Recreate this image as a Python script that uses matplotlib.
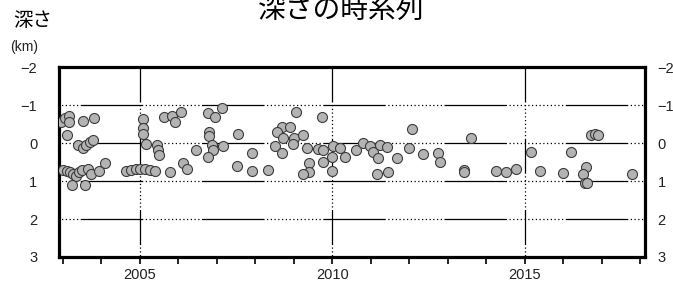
import numpy as np
import matplotlib
matplotlib.use("Agg")
import matplotlib.pyplot as plt

plt.rcParams['font.family'] = ['Liberation Sans', 'Noto Sans CJK JP', 'DejaVu Sans']

# decimal year / depth (km)
years = [
    2002.95, 2003.05, 2003.16, 2003.16, 2003.53, 2003.80, 2003.10,
    2003.40, 2003.53, 2003.60, 2003.70, 2003.77,
    2003.00, 2003.10, 2003.18, 2003.25, 2003.33, 2003.42, 2003.50, 2003.64,
    2003.73, 2003.94, 2004.10, 2003.23, 2003.57,
    2005.09, 2005.09, 2005.07, 2005.17, 2005.45, 2005.48, 2005.50, 2005.63,
    2004.65, 2004.78, 2004.90, 2005.00, 2005.13, 2005.26, 2005.39,
    2005.82, 2005.91, 2006.06, 2006.77, 2006.95, 2007.12, 2006.45, 2006.80,
    2006.80, 2006.86, 2006.89, 2006.77, 2007.16, 2007.55, 2007.90, 2005.78,
    2006.12, 2006.21, 2007.53, 2007.90, 2008.33,
    2009.05, 2009.72, 2008.68, 2008.90, 2008.55, 2008.72, 2009.00, 2009.24,
    2008.51, 2008.68, 2008.97, 2009.35, 2009.63, 2009.76, 2010.02, 2010.19,
    2010.32, 2009.98, 2009.76, 2009.40, 2009.40, 2009.23, 2009.98,
    2010.61, 2010.80, 2010.97, 2011.06, 2011.19, 2011.23, 2011.41, 2011.17,
    2011.45,
    2011.67, 2012.08, 2012.00, 2012.36, 2012.75, 2012.79, 2013.42, 2013.42,
    2013.59, 2014.26,
    2014.52, 2014.77, 2015.17, 2015.39, 2015.99, 2016.21, 2016.60, 2016.51,
    2016.56, 2016.62, 2016.73, 2016.82, 2016.90, 2017.77,
]
depths = [
    -0.57, -0.66, -0.72, -0.57, -0.59, -0.66, -0.22,
    0.05, 0.12, 0.05, -0.02, -0.09,
    0.71, 0.73, 0.77, 0.82, 0.86, 0.75, 0.71, 0.68,
    0.80, 0.73, 0.51, 1.10, 1.09,
    -0.64, -0.41, -0.24, 0.03, 0.05, 0.18, 0.31, -0.70,
    0.73, 0.71, 0.68, 0.68, 0.68, 0.71, 0.73,
    -0.71, -0.57, -0.82, -0.79, -0.68, -0.93, 0.18, -0.29,
    -0.18, 0.05, 0.18, 0.36, 0.06, -0.24, 0.27, 0.77,
    0.53, 0.68, 0.60, 0.73, 0.71,
    -0.82, -0.68, -0.44, -0.44, -0.29, -0.15, -0.13, -0.22,
    0.06, 0.27, 0.03, 0.13, 0.15, 0.18, 0.06, 0.13,
    0.36, 0.36, 0.49, 0.53, 0.75, 0.82, 0.73,
    0.18, 0.00, 0.06, 0.24, 0.40, 0.05, 0.09, 0.80,
    0.77,
    0.40, -0.38, 0.12, 0.29, 0.27, 0.49, 0.71, 0.76,
    -0.15, 0.73,
    0.75, 0.68, 0.24, 0.73, 0.78, 0.24, 0.62, 0.80,
    1.06, 1.06, -0.22, -0.24, -0.22, 0.80,
]

year_ticks = list(range(2003, 2019))
year_labels = ['2005', '2010', '2015']
depth_ticks = [-2, -1, 0, 1, 2, 3]
depth_labels = ['\u22122', '\u22121', '0', '1', '2', '3']

fig = plt.figure(figsize=(6.73, 2.92), dpi=100)
ax = fig.add_axes([0.0884, 0.12, 0.870, 0.649])

x0, x1 = 2002.91, 2018.12
ax.set_xlim(x0, x1)
ax.set_ylim(3, -2)

# grid lines: alternating solid and dotted stretches (even-length dash lists)
hpat = (80, [50, 2] + [1, 2] * 15)
for d in [-1, 0, 1, 2]:
    ax.plot([x0, x1], [d, d], color='black', lw=0.9, linestyle=hpat, zorder=1)
vpat = (0, [28, 2] + [1, 2] * 9)
for yr in [2005, 2010, 2015]:
    ax.plot([yr, yr], [-2, 3], color='black', lw=0.9, linestyle=vpat, zorder=1)

ax.scatter(years, depths, s=52, facecolor='#b3b3b3', edgecolor='#3c3c3c',
           linewidth=0.8, zorder=3)

for sp in ax.spines.values():
    sp.set_linewidth(2.3)

ax.set_xticks(year_ticks)
ax.set_xticklabels([str(y) if str(y) in year_labels else '' for y in year_ticks])
ax.tick_params(axis='x', direction='out', length=5, width=1.2, pad=3,
               labelsize=10.5, labelcolor='#222222')

ax.set_yticks(depth_ticks)
ax.set_yticklabels(depth_labels)
ax.tick_params(axis='y', length=0, pad=16, labelsize=10.5, labelcolor='#222222')

# right-hand copy of the depth labels
sec = ax.secondary_yaxis('right')
sec.set_yticks(depth_ticks)
sec.set_yticklabels(depth_labels)
sec.tick_params(axis='y', length=0, pad=9, labelsize=10.5, labelcolor='#222222')
sec.spines['right'].set_visible(False)

fig.text(0.507, 0.965, '深さの時系列', ha='center', va='center', fontsize=20,
         family=['Noto Sans CJK JP', 'DejaVu Sans'])
fig.text(0.048, 0.93, '深さ', ha='center', va='center', fontsize=14,
         family=['Noto Sans CJK JP', 'DejaVu Sans'])
fig.text(0.036, 0.839, '(km)', ha='center', va='center', fontsize=10,
         color='#222222')

fig.savefig('out.png', dpi=100)
